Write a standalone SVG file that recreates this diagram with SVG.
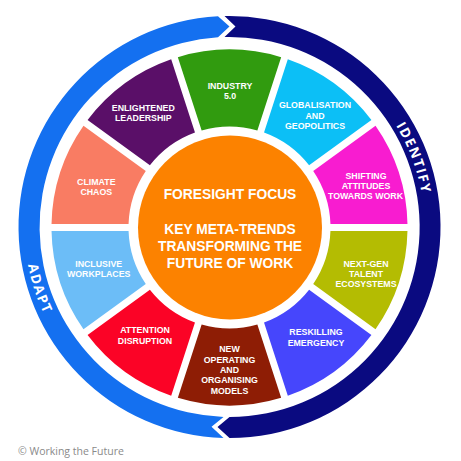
<svg xmlns="http://www.w3.org/2000/svg" width="461" height="461" viewBox="0 0 461 461">
<defs>
<style>
.lbl{font-family:"Liberation Sans",Arial,sans-serif;font-weight:700;font-size:8.8px;fill:#fff;text-anchor:middle}
.ctr{font-family:"Liberation Sans",Arial,sans-serif;font-weight:700;font-size:13.8px;fill:#fff;text-anchor:middle}
.ring{font-family:"Open Sans","DejaVu Sans",sans-serif;font-weight:700;font-size:13.5px;fill:#fff;letter-spacing:1.6px}
.copy{font-family:"Open Sans","DejaVu Sans",sans-serif;font-size:10.5px;fill:#8a8a8a}
</style>
<path id="pIdentify" d="M325.5,57.3 A195,195 0 0 1 413.3,292.1"/>
<path id="pAdapt" d="M39.4,150.2 A205,205 0 0 0 120.9,400.8"/>
</defs>
<rect width="461" height="461" fill="#fff"/>

<g id="connectors">
<path id="ring-adapt" fill="#1470f0" d="M223.5,437.9 L211.5,426.7 L223.5,416.9 A190,190 0 0 1 218,37.35 L229.5,26.5 L218,16.3 A211,211 0 0 0 223.5,437.9 Z"/>
<path id="ring-identify" fill="#0a0a80" d="M224.5,16.06 L235.5,26.6 L224.5,37.07 A190,190 0 1 1 229.5,417 L217.5,427.1 L229.5,438 A211,211 0 1 0 224.5,16.06 Z"/>
</g>

<g id="label-identify"><text class="ring"><textPath href="#pIdentify" startOffset="50%" text-anchor="middle">IDENTIFY</textPath></text></g>
<g id="label-adapt"><text class="ring" letter-spacing="2"><textPath href="#pAdapt" startOffset="50%" text-anchor="middle">ADAPT</textPath></text></g>

<g id="industry">
<path fill="#319b0f" d="M201.64,130.42 L177.84,57.16 A178,178 0 0 1 281.16,57.16 L257.36,130.42 A101,101 0 0 0 201.64,130.42 Z"/>
<text class="lbl" x="230" y="88.5">INDUSTRY</text>
<text class="lbl" x="230" y="98.8">5.0</text>
</g>
<g id="globalisation">
<path fill="#0cbff6" d="M264.02,132.58 L287.82,59.33 A178,178 0 0 1 371.42,120.06 L309.10,165.34 A101,101 0 0 0 264.02,132.58 Z"/>
<text class="lbl" x="315" y="108.2">GLOBALISATION</text>
<text class="lbl" x="315" y="118.5">AND</text>
<text class="lbl" x="315" y="128.9">GEOPOLITICS</text>
</g>
<g id="shifting">
<path fill="#f81cd0" d="M313.22,171.00 L375.53,125.73 A178,178 0 0 1 407.47,224.0 L330.44,224.0 A101,101 0 0 0 313.22,171.00 Z"/>
<text class="lbl" x="366" y="178.5">SHIFTING</text>
<text class="lbl" x="366" y="188.9">ATTITUDES</text>
<text class="lbl" x="365.5" y="199.2">TOWARDS WORK</text>
</g>
<g id="nextgen">
<path fill="#b4bc02" d="M330.44,231.0 L407.47,231.0 A178,178 0 0 1 375.53,329.27 L313.22,284.0 A101,101 0 0 0 330.44,231.0 Z"/>
<text class="lbl" x="366" y="266.5">NEXT-GEN</text>
<text class="lbl" x="366" y="276.9">TALENT</text>
<text class="lbl" x="366" y="287.2">ECOSYSTEMS</text>
</g>
<g id="reskilling">
<path fill="#4646fc" d="M309.10,289.66 L371.42,334.94 A178,178 0 0 1 287.82,395.67 L264.02,322.42 A101,101 0 0 0 309.10,289.66 Z"/>
<text class="lbl" x="316" y="335.2">RESKILLING</text>
<text class="lbl" x="316" y="345.5">EMERGENCY</text>
</g>
<g id="operating">
<path fill="#8e1d05" d="M257.36,324.58 L281.16,397.84 A178,178 0 0 1 177.84,397.84 L201.64,324.58 A101,101 0 0 0 257.36,324.58 Z"/>
<text class="lbl" x="229.5" y="352.2">NEW</text>
<text class="lbl" x="229.5" y="362.6">OPERATING</text>
<text class="lbl" x="229.5" y="373.0">AND</text>
<text class="lbl" x="229.5" y="383.4">ORGANISING</text>
<text class="lbl" x="229.5" y="393.8">MODELS</text>
</g>
<g id="attention">
<path fill="#fb0326" d="M194.98,322.42 L171.18,395.67 A178,178 0 0 1 87.58,334.94 L149.90,289.66 A101,101 0 0 0 194.98,322.42 Z"/>
<text class="lbl" x="145" y="333.2">ATTENTION</text>
<text class="lbl" x="145" y="343.5">DISRUPTION</text>
</g>
<g id="inclusive">
<path fill="#6cbdf7" d="M145.78,284.0 L83.47,329.27 A178,178 0 0 1 51.53,231.0 L128.56,231.0 A101,101 0 0 0 145.78,284.0 Z"/>
<text class="lbl" x="98.7" y="266.5">INCLUSIVE</text>
<text class="lbl" x="98.7" y="276.9">WORKPLACES</text>
</g>
<g id="climate">
<path fill="#f97c63" d="M128.56,224.0 L51.53,224.0 A178,178 0 0 1 83.47,125.73 L145.78,171.0 A101,101 0 0 0 128.56,224.0 Z"/>
<text class="lbl" x="96.3" y="184.9">CLIMATE</text>
<text class="lbl" x="96.3" y="195.2">CHAOS</text>
</g>
<g id="enlightened">
<path fill="#5a0f68" d="M149.90,165.34 L87.58,120.06 A178,178 0 0 1 171.18,59.33 L194.98,132.58 A101,101 0 0 0 149.90,165.34 Z"/>
<text class="lbl" x="143.3" y="111.2">ENLIGHTENED</text>
<text class="lbl" x="143.3" y="121.4">LEADERSHIP</text>
</g>

<g id="foresight">
<circle cx="230" cy="227.5" r="92" fill="#fc8200"/>
<text class="ctr" x="230" y="199.2">FORESIGHT FOCUS</text>
<text class="ctr" x="230" y="233.9">KEY META-TRENDS</text>
<text class="ctr" x="230" y="250.9">TRANSFORMING THE</text>
<text class="ctr" x="230" y="267.9">FUTURE OF WORK</text>
</g>

<g id="copyright"><text class="copy" x="18" y="454.5">© Working the Future</text></g>
</svg>
